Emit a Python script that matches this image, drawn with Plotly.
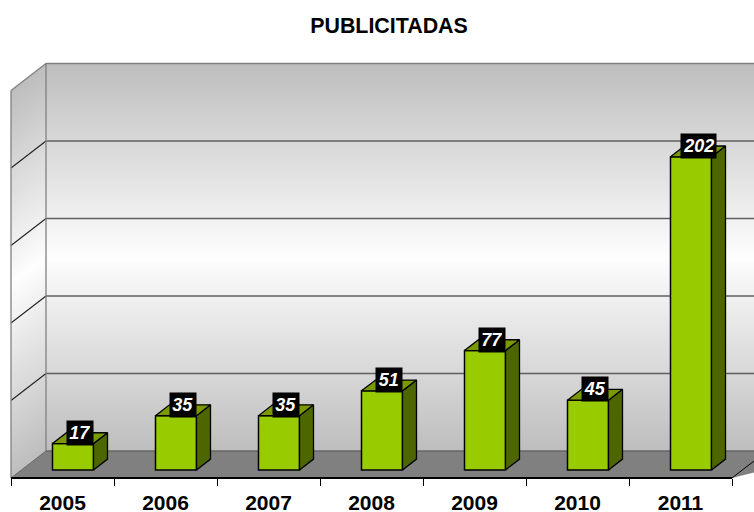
import plotly.graph_objects as go

categories = ["2005", "2006", "2007", "2008", "2009", "2010", "2011"]
values = [17, 35, 35, 51, 77, 45, 202]
gridlines = [0, 50, 100, 150, 200, 250]

W, H = 754, 512
PX_CAT = 103.0     # pixels per category
PX_VAL = 1.55      # pixels per value unit
X0, Y0 = 11.0, 478.0
DX = 35.0 / PX_CAT  # full depth in category units
DY = 27.0 / PX_VAL  # full depth in value units
VMAX = 250
BAR_W = 41.0 / PX_CAT
D_FRONT, D_BACK = 0.30, 0.70


def pr(c, v, d=0.0):
    return c + d * DX, v + d * DY


def path(points):
    return "M " + " L ".join(f"{x:.4f},{y:.4f}" for x, y in points) + " Z"


def wall_color(v):
    t = abs(v / VMAX - 0.5) * 2
    g = round(253 - t * (253 - 190))
    return f"rgb({g},{g},{g})"


n_cat = len(categories)
shapes = []
XR = (W - X0) / PX_CAT + 0.5
STEPS = 130
for i in range(STEPS):
    v0 = VMAX * i / STEPS
    v1 = VMAX * (i + 1.6) / STEPS
    v1 = min(v1, VMAX)
    col = wall_color(VMAX * (i + 0.5) / STEPS)
    shapes.append(dict(type="path", xref="x", yref="y", layer="below", line_width=0, fillcolor=col,
                       path=path([pr(0, v0, 1), pr(XR, v0, 1), pr(XR, v1, 1), pr(0, v1, 1)])))
    shapes.append(dict(type="path", xref="x", yref="y", layer="below", line_width=0, fillcolor=col,
                       path=path([pr(0, v0, 0), pr(0, v0, 1), pr(0, v1, 1), pr(0, v1, 0)])))
# floor
shapes.append(dict(type="path", xref="x", yref="y", layer="below", fillcolor="#808080", line_width=0,
                   path=path([pr(0, 0, 0), pr(0, 0, 1), pr(XR, 0, 1), pr(n_cat, 0, 0)])))


def seg(a, b, color, width):
    shapes.append(dict(type="line", xref="x", yref="y", layer="below", x0=a[0], y0=a[1], x1=b[0], y1=b[1],
                       line=dict(color=color, width=width)))


for g in gridlines:
    if 0 < g < VMAX:
        seg(pr(0, g, 1), pr(XR, g, 1), "#5f5f5f", 1.6)
        seg(pr(0, g, 0), pr(0, g, 1), "#222222", 1.1)
seg(pr(0, 0, 1), pr(XR, 0, 1), "#666666", 1.6)
seg(pr(0, VMAX, 1), pr(XR, VMAX, 1), "#808080", 1.3)
seg(pr(0, VMAX, 0), pr(0, VMAX, 1), "#808080", 1.3)
seg(pr(0, 0, 0), pr(0, VMAX, 0), "#808080", 1.3)
seg(pr(0, 0, 1), pr(0, VMAX, 1), "#808080", 1.3)
seg(pr(0, 0, 0), pr(0, 0, 1), "#666666", 1.0)
seg(pr(n_cat, 0, 0), pr(n_cat, 0, 1), "#000000", 1.0)
seg(pr(0, 0, 0), pr(n_cat, 0, 0), "#000000", 2)

fig = go.Figure()

centers = [i + 0.5 for i in range(n_cat)]
fig.add_trace(go.Bar(
    x=[pr(c, 0, D_FRONT)[0] for c in centers],
    y=values,
    base=D_FRONT * DY,
    width=BAR_W,
    marker=dict(color="#99CC00", line=dict(color="#000000", width=1.5)),
    hoverinfo="skip",
))


def poly(pts, color):
    fig.add_trace(go.Scatter(x=[p[0] for p in pts] + [pts[0][0]], y=[p[1] for p in pts] + [pts[0][1]],
                             mode="lines", fill="toself", fillcolor=color,
                             line=dict(color="#000000", width=1.3), hoverinfo="skip"))


annotations = []
for c, v in zip(centers, values):
    l, r = c - BAR_W / 2, c + BAR_W / 2
    poly([pr(r, 0, D_FRONT), pr(r, 0, D_BACK), pr(r, v, D_BACK), pr(r, v, D_FRONT)], "#4D6600")
    poly([pr(l, v, D_FRONT), pr(r, v, D_FRONT), pr(r, v, D_BACK), pr(l, v, D_BACK)], "#7A9900")
    annotations.append(dict(
        x=pr(c, 0, 0.5)[0], y=pr(c, v, D_BACK)[1], xref="x", yref="y", showarrow=False,
        text=f"<b><i>{v}</i></b>", bgcolor="#000000",
        font=dict(family="Liberation Sans", size=18, color="#FFFFFF"),
        width=6 + 9.8 * len(str(v)), height=24, borderpad=0, align="center", valign="middle",
    ))

fig.update_layout(
    width=W, height=H, autosize=False,
    margin=dict(l=0, r=0, t=0, b=0),
    paper_bgcolor="#FFFFFF", plot_bgcolor="#FFFFFF",
    showlegend=False, barmode="overlay",
    font=dict(family="Liberation Sans", color="#000000"),
    title=dict(text="<b>PUBLICITADAS</b>", x=389 / W, xanchor="center", y=1 - 26 / H, yanchor="middle",
               font=dict(family="Liberation Sans", size=21.4, color="#000000")),
    xaxis=dict(
        range=[-X0 / PX_CAT, (W - X0) / PX_CAT], domain=[0, 1], anchor="free", position=(H - Y0) / H,
        automargin=False,
        tickmode="array", tickvals=centers, ticktext=[f"<b>{c}</b>" for c in categories],
        tickfont=dict(family="Liberation Sans", size=21, color="#000000"),
        ticks="outside", ticklen=6, tickcolor="rgba(0,0,0,0)",
        minor=dict(tickmode="array", tickvals=list(range(n_cat + 1)), ticks="outside", ticklen=7,
                   tickcolor="#000000", tickwidth=1, showgrid=False),
        showgrid=False, zeroline=False, showline=False, fixedrange=True,
    ),
    yaxis=dict(range=[(Y0 - H) / PX_VAL, Y0 / PX_VAL], domain=[0, 1], visible=False, showgrid=False,
               automargin=False, zeroline=False, fixedrange=True),
    shapes=shapes,
    annotations=annotations,
)

fig.write_html(
    "out.html",
    config={"displayModeBar": False},
    post_script="document.body.style.margin='0';document.body.style.overflow='hidden';",
)
